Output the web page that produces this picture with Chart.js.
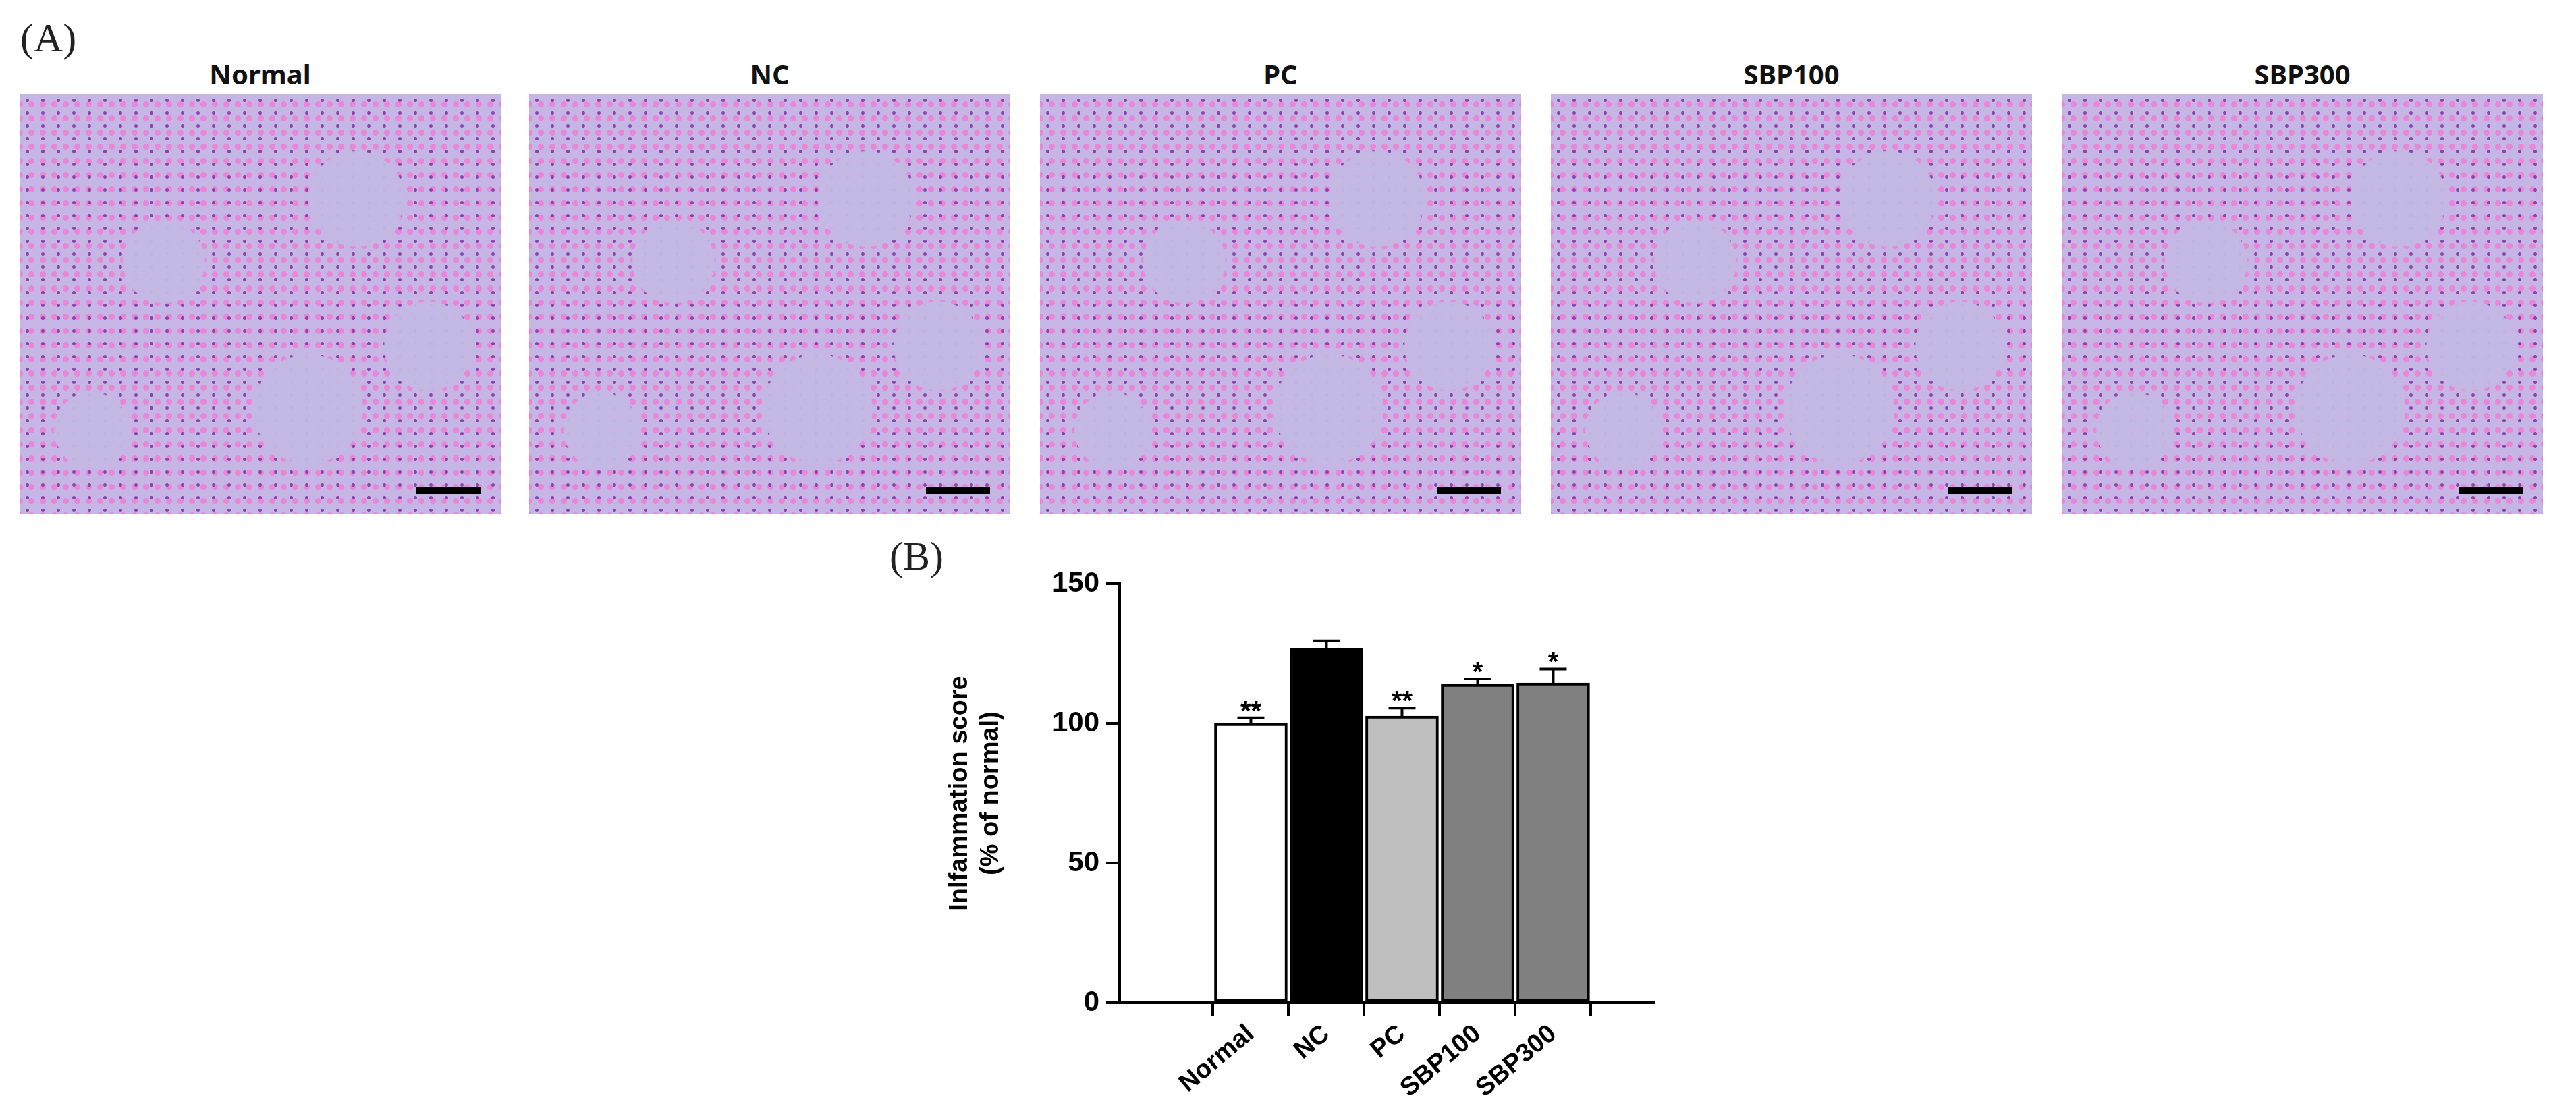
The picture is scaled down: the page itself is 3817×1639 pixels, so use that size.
<!DOCTYPE html>
<html><head><meta charset="utf-8">
<script src="https://cdn.jsdelivr.net/npm/chart.js@4/dist/chart.umd.min.js"></script>
<style>
body{margin:0;width:3817px;height:1639px;background:#fff;position:relative;overflow:hidden;font-family:"Liberation Sans",Arial,sans-serif}
.lab{position:absolute;font-family:"Liberation Serif",serif;font-size:60px;color:#222}
.img{position:absolute;top:139px;width:713px;height:623px;
background:
radial-gradient(circle at 30% 40%, rgba(195,185,228,0.95) 0 60px, transparent 62px),
radial-gradient(circle at 70% 25%, rgba(195,185,228,0.95) 0 70px, transparent 72px),
radial-gradient(circle at 60% 75%, rgba(195,185,228,0.95) 0 80px, transparent 82px),
radial-gradient(circle at 15% 80%, rgba(195,185,228,0.95) 0 55px, transparent 57px),
radial-gradient(circle at 85% 60%, rgba(195,185,228,0.95) 0 65px, transparent 67px),
radial-gradient(circle, #8a44a8 2px, transparent 3px) 0 0/23px 19px,
radial-gradient(circle, #ea86d8 4px, transparent 5px) 9px 5px/17px 21px,
#c6b6e6}
.img::after{content:"";position:absolute;right:30px;bottom:30px;width:95px;height:10px;background:#000}
.t{position:absolute;top:82px;width:713px;text-align:center;font-family:"Noto Sans",sans-serif;font-weight:bold;font-size:40px;color:#111}
#wrap{position:absolute;left:1300px;top:830px;width:1200px;height:809px}
</style></head><body>
<div class="lab" style="left:30px;top:22px">(A)</div>
<div class="lab" style="left:1318px;top:790px">(B)</div>
<div id="panels"></div>
<div id="wrap"><canvas id="c" width="1200" height="809" style="width:1200px;height:809px"></canvas></div>
<script>
const categories=["Normal","NC","PC","SBP100","SBP300"];
const values=[100,127,102.7,114,114.5];
const errors=[2,2.6,2.8,2,5];
const stars=["**","","**","*","*"];
const fills=["#ffffff","#000000","#bfbfbf","#808080","#808080"];
const yTicks=[0,50,100,150];
const panelLeft=[29,784,1541,2298,3055];

const P=document.getElementById('panels');
categories.forEach((c,i)=>{
  const d=document.createElement('div');d.className='img';d.style.left=panelLeft[i]+'px';P.appendChild(d);
  const t=document.createElement('div');t.className='t';t.style.left=panelLeft[i]+'px';t.textContent=c;P.appendChild(t);
});

const errPlugin={id:'err',afterDatasetsDraw(ch){
  const ctx=ch.ctx,xs=ch.scales.x,ys=ch.scales.y;
  ctx.save();ctx.strokeStyle='#000';ctx.lineWidth=4;ctx.fillStyle='#000';
  ctx.font='bold 40px "Liberation Sans"';ctx.textAlign='center';ctx.textBaseline='bottom';
  values.forEach((v,i)=>{
    const x=xs.getPixelForValue(i),y0=ys.getPixelForValue(v),y1=ys.getPixelForValue(v+errors[i]);
    ctx.beginPath();ctx.moveTo(x,y0);ctx.lineTo(x,y1);ctx.moveTo(x-20,y1);ctx.lineTo(x+20,y1);ctx.stroke();
    if(stars[i])ctx.fillText(stars[i],x,y1+12);
  });
  ctx.restore();
}};

new Chart(document.getElementById('c'),{
  type:'bar',
  data:{datasets:[{data:values.map((v,i)=>({x:i,y:v})),backgroundColor:fills,borderColor:'#000',borderWidth:4,barThickness:108,borderSkipped:false}]},
  options:{responsive:false,animation:false,devicePixelRatio:1,
    layout:{padding:{top:25,right:50,left:100,bottom:0}},
    plugins:{legend:{display:false},tooltip:{enabled:false}},
    scales:{
      x:{type:'linear',min:-1.03,max:4.62,
        afterBuildTicks(s){s.ticks=categories.map((c,i)=>({value:i}));},
        afterFit(s){s.height=153;},
        border:{color:'#000',width:4},
        grid:{drawOnChartArea:false,tickLength:20,color:'#000',lineWidth:4},
        ticks:{callback:v=>categories[v]??'',minRotation:40,maxRotation:40,color:'#000',padding:4,font:{family:'Liberation Sans',weight:'bold',size:38}}},
      y:{min:0,max:150,
        afterBuildTicks(s){s.ticks=yTicks.map(v=>({value:v}));},
        afterFit(s){s.width=259;},
        border:{color:'#000',width:4},
        grid:{drawOnChartArea:false,tickLength:20,color:'#000',lineWidth:4},
        ticks:{color:'#000',padding:10,font:{family:'Liberation Sans',weight:'bold',size:42}},
        title:{display:true,text:['Inlfammation score','(% of normal)'],color:'#000',padding:0,font:{family:'Liberation Sans',weight:'bold',size:38}}}
    }},
  plugins:[errPlugin]
});
</script>
</body></html>
